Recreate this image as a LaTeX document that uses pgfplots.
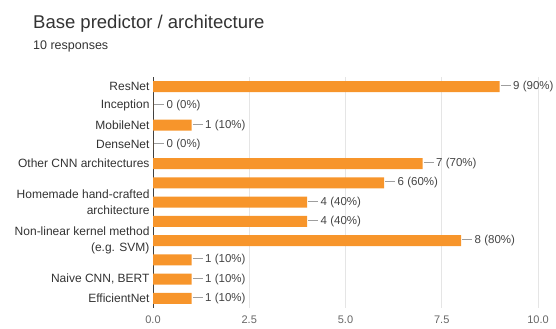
\documentclass[border=0pt]{standalone}
\usepackage{pgfplots}
\pgfplotsset{compat=1.18}
\usepackage{fontspec}
\setmainfont{Liberation Sans}
\definecolor{barorange}{HTML}{F7952B}
\definecolor{txt}{HTML}{333333}
\definecolor{valtxt}{HTML}{444444}
\definecolor{leader}{HTML}{9E9E9E}
\begin{document}
\begin{tikzpicture}
\path[use as bounding box] (0bp,0bp) rectangle (556bp,-329bp);
\node[anchor=base west, inner sep=0, text=txt, font=\fontsize{18.5bp}{22bp}\selectfont] at (33bp,-28bp) {Base predictor / architecture};
\node[anchor=base west, inner sep=0, text=txt, font=\fontsize{12.5bp}{15bp}\selectfont] at (33bp,-49bp) {10 responses};
\begin{axis}[
  at={(153bp,-308bp)}, anchor=south west,
  scale only axis, width=385bp, height=231bp,
  xbar, bar width=11bp,
  xmin=0, xmax=10, ymin=-0.5, ymax=11.5,
  enlargelimits=false,
  y dir=reverse,
  axis x line=bottom, axis y line=left,
  axis line style={-},
  x axis line style={draw=none},
  y axis line style={draw=black!75, line width=0.8bp},
  xtick={0,2.5,5,7.5,10},
  xticklabel style={/pgf/number format/fixed, /pgf/number format/fixed zerofill, /pgf/number format/precision=1, font=\fontsize{11bp}{13bp}\selectfont, text=black!60, yshift=-4bp},
  /pgf/number format/assume math mode=true,
  xmajorgrids, grid style={draw=black!10, line width=0.6bp},
  major tick length=0pt,
  ytick={0,1,2,3,4,5,6,7,8,9,10,11},
  yticklabels={ResNet, Inception, MobileNet, DenseNet, Other CNN architectures, {}, {Homemade hand-crafted\\architecture}, {}, {Non-linear kernel method\\(e.g. SVM)}, {}, {Naive CNN, BERT}, EfficientNet},
  yticklabel style={align=right, font=\fontsize{12bp}{16bp}\selectfont, text=txt},
  point meta=explicit symbolic,
  nodes near coords={\textcolor{leader}{\rule[0.33em]{10bp}{0.7bp}}\hspace{2.5bp}\pgfplotspointmeta},
  nodes near coords align={horizontal},
  every node near coord/.append style={anchor=west, inner sep=0pt, xshift=1bp, text=valtxt, font=\fontsize{11.5bp}{13bp}\selectfont},
]
\addplot[fill=barorange, draw=none] coordinates {
  (9,0) [9 (90\%)]
  (0,1) [0 (0\%)]
  (1,2) [1 (10\%)]
  (0,3) [0 (0\%)]
  (7,4) [7 (70\%)]
  (6,5) [6 (60\%)]
  (4,6) [4 (40\%)]
  (4,7) [4 (40\%)]
  (8,8) [8 (80\%)]
  (1,9) [1 (10\%)]
  (1,10) [1 (10\%)]
  (1,11) [1 (10\%)]
};
\end{axis}
\end{tikzpicture}
\end{document}
